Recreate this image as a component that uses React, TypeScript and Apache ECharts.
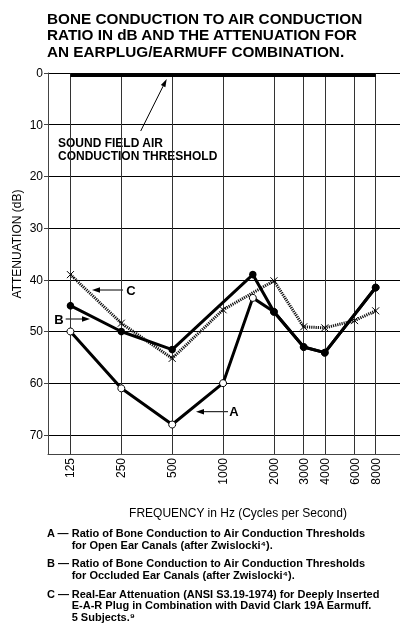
import React, { useEffect, useRef } from 'react';
import * as echarts from 'echarts';

const FONT = '"Liberation Sans", Arial, Helvetica, sans-serif';

// Frequencies (Hz) shown on the x axis
const tickFrequencies = [125, 250, 500, 1000, 2000, 3000, 4000, 6000, 8000];

// A — open ear canals
const freqA = [125, 250, 500, 1000, 1500, 2000, 3000, 4000, 8000];
const valuesA = [50, 61, 68, 60, 43.5, 46.2, 53, 54.1, 41.5];
// B — occluded ear canals
const freqB = [125, 250, 500, 1500, 2000, 3000, 4000, 8000];
const valuesB = [45, 50, 53.5, 39, 46.2, 53, 54.1, 41.5];
// C — real-ear attenuation, E-A-R plug + David Clark 19A earmuff
const freqC = [125, 250, 500, 1000, 2000, 3000, 4000, 6000, 8000];
const valuesC = [39, 48.4, 55.2, 45.8, 40.2, 49.1, 49.3, 47.9, 46];
// Sound field air conduction threshold
const freqThreshold = [125, 8000];
const valuesThreshold = [0.4, 0.4];

const pairs = (f: number[], v: number[]) => f.map((x, i) => [Math.log2(x), v[i]]);

function arrow(x1: number, y1: number, x2: number, y2: number, len = 8, half = 2.8): any[] {
  const dx = x2 - x1, dy = y2 - y1;
  const d = Math.sqrt(dx * dx + dy * dy);
  const ux = dx / d, uy = dy / d;
  const bx = x2 - ux * len, by = y2 - uy * len;
  const px = -uy, py = ux;
  return [
    { type: 'line', shape: { x1, y1, x2: bx, y2: by }, style: { stroke: '#000', lineWidth: 1 } },
    {
      type: 'polygon',
      shape: { points: [[x2, y2], [bx + px * half, by + py * half], [bx - px * half, by - py * half]] },
      style: { fill: '#000' },
    },
  ];
}

export default function App() {
  const ref = useRef<HTMLDivElement>(null);
  useEffect(() => {
    if (!ref.current) return;
    const chart = echarts.init(ref.current, undefined, { renderer: 'svg' });
    const xMin = 6.5246;
    const xMax = 13.4439;
    const txt = (x: number, y: number, text: string, size: number, weight: string, extra: any = {}) => ({
      type: 'text',
      x,
      y,
      style: {
        text,
        fontSize: size,
        fontWeight: weight,
        fontFamily: FONT,
        fill: '#000',
        verticalAlign: 'middle',
        align: 'left',
        ...extra,
      },
    });
    chart.setOption({
      animation: false,
      grid: { left: 48, top: 73, right: -4, bottom: 172 },
      xAxis: {
        type: 'value',
        min: xMin,
        max: xMax,
        axisLine: { onZero: false, lineStyle: { color: '#444', width: 1 } },
        axisTick: { show: false, customValues: tickFrequencies.map((f) => Math.log2(f)) },
        axisLabel: {
          customValues: tickFrequencies.map((f) => Math.log2(f)),
          formatter: (v: number) => String(Math.round(Math.pow(2, v))),
          rotate: 90,
          margin: 4,
          fontSize: 12,
          fontFamily: FONT,
          color: '#000',
        },
        splitLine: { show: true, lineStyle: { color: '#333', width: 1 } },
      },
      yAxis: {
        type: 'value',
        inverse: true,
        min: 0,
        max: 73.7,
        interval: 10,
        axisLine: { show: true, lineStyle: { color: '#444', width: 1 } },
        axisTick: { show: true, inside: false, length: 4, lineStyle: { color: '#444' } },
        axisLabel: { fontSize: 12, fontFamily: FONT, color: '#000', margin: 5, showMaxLabel: false },
        splitLine: { show: true, lineStyle: { color: '#000', width: 1 } },
      },
      series: [
        {
          type: 'line',
          name: 'Threshold',
          data: pairs(freqThreshold, valuesThreshold),
          symbol: 'none',
          lineStyle: { color: '#000', width: 4, cap: 'butt' },
          silent: true,
          z: 3,
        },
        {
          type: 'line',
          name: 'C',
          data: pairs(freqC, valuesC),
          symbol: 'path://M0,0L10,10M10,0L0,10',
          symbolSize: 7,
          itemStyle: { color: 'none', borderColor: '#000', borderWidth: 1 },
          lineStyle: { color: '#111', width: 3, type: [1.2, 1] },
          silent: true,
          z: 4,
        },
        {
          type: 'line',
          name: 'A',
          data: pairs(freqA, valuesA),
          symbol: 'circle',
          symbolSize: 7,
          itemStyle: { color: '#fff', borderColor: '#000', borderWidth: 1 },
          lineStyle: { color: '#000', width: 3 },
          silent: true,
          z: 5,
        },
        {
          type: 'line',
          name: 'B',
          data: pairs(freqB, valuesB),
          symbol: 'circle',
          symbolSize: 7.5,
          itemStyle: { color: '#000', borderColor: '#000', borderWidth: 0 },
          lineStyle: { color: '#000', width: 3 },
          silent: true,
          z: 6,
        },
      ],
      graphic: [
        txt(47, 10, 'BONE CONDUCTION TO AIR CONDUCTION\nRATIO IN dB AND THE ATTENUATION FOR\nAN EARPLUG/EARMUFF COMBINATION.', 15.3, 'bold', {
          verticalAlign: 'top',
          lineHeight: 16.5,
        }),
        txt(58, 136, 'SOUND FIELD AIR\nCONDUCTION THRESHOLD', 12, 'bold', { verticalAlign: 'top', lineHeight: 13.3 }),
        ...arrow(140.7, 131, 166.7, 79, 8, 2.5),
        txt(131, 290, 'C', 13, 'bold', { align: 'center' }),
        ...arrow(123, 290, 92, 290),
        txt(59, 319, 'B', 13, 'bold', { align: 'center' }),
        ...arrow(65.7, 319, 90, 319),
        txt(234, 411.7, 'A', 13, 'bold', { align: 'center' }),
        ...arrow(228, 411.7, 196, 411.7),
        {
          type: 'text',
          x: 17,
          y: 244,
          rotation: Math.PI / 2,
          style: {
            text: 'ATTENUATION (dB)',
            fontSize: 12,
            fontFamily: FONT,
            fill: '#000',
            align: 'center',
            verticalAlign: 'middle',
          },
        },
        txt(238, 513, 'FREQUENCY in Hz (Cycles per Second)', 12, 'normal', { align: 'center' }),
        txt(47, 533.3, 'A —', 11, 'bold'),
        txt(71.7, 527.5, 'Ratio of Bone Conduction to Air Conduction Thresholds\nfor Open Ear Canals (after Zwislocki\u2074).', 11, 'bold', {
          verticalAlign: 'top',
          lineHeight: 11.6,
        }),
        txt(47, 563.3, 'B —', 11, 'bold'),
        txt(71.7, 557.5, 'Ratio of Bone Conduction to Air Conduction Thresholds\nfor Occluded Ear Canals (after Zwislocki\u2074).', 11, 'bold', {
          verticalAlign: 'top',
          lineHeight: 11.6,
        }),
        txt(47, 594, 'C —', 11, 'bold'),
        txt(71.7, 588.3, 'Real-Ear Attenuation (ANSI S3.19-1974) for Deeply Inserted\nE-A-R Plug in Combination with David Clark 19A Earmuff.\n5 Subjects.\u2079', 11, 'bold', {
          verticalAlign: 'top',
          lineHeight: 11.35,
        }),
      ],
    });
    return () => chart.dispose();
  }, []);
  return <div ref={ref} style={{ position: 'fixed', left: 0, top: 0, width: 400, height: 626 }} />;
}
